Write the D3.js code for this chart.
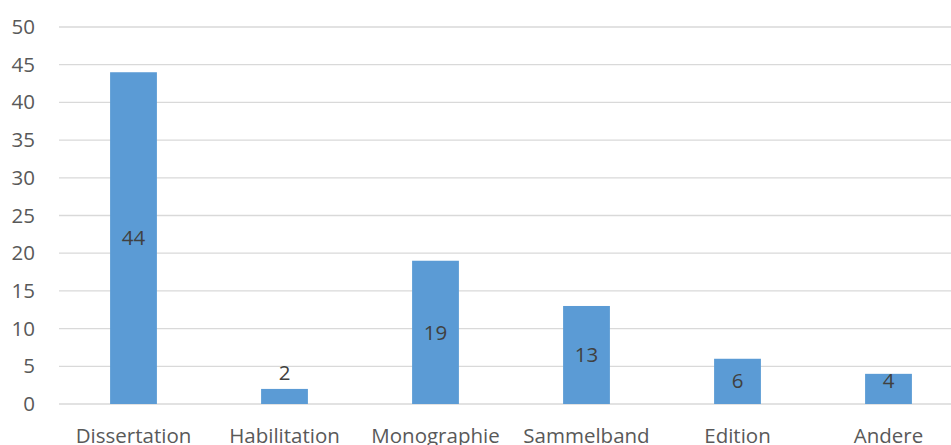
<!DOCTYPE html>
<html>
<head>
<meta charset="utf-8">
<script src="https://cdn.jsdelivr.net/npm/d3@7"></script>
<style>
  body { margin: 0; background: #fff; }
  svg { display: block; font-family: "Open Sans", sans-serif; }
</style>
</head>
<body>
<svg id="chart"></svg>
<script>
const categories = ["Dissertation", "Habilitation", "Monographie", "Sammelband", "Edition", "Andere"];
const counts = [44, 2, 19, 13, 6, 4];
const yTicks = [0, 5, 10, 15, 20, 25, 30, 35, 40, 45, 50];

const width = 951, height = 445;
const margin = { top: 27, left: 59, bottom: 41 };
const fontSize = 20.5;

const svg = d3.select("#chart")
  .attr("width", width)
  .attr("height", height);

// band scale runs past the right edge, as in the cropped original
const x = d3.scaleBand()
  .domain(categories)
  .range([margin.left - 1, margin.left - 1 + 151 * categories.length])
  .paddingInner(0.69)
  .paddingOuter(0.345);

const y = d3.scaleLinear()
  .domain([0, 50])
  .range([height - margin.bottom, margin.top]);

// gridlines
svg.append("g")
  .selectAll("line")
  .data(yTicks)
  .join("line")
  .attr("x1", margin.left)
  .attr("x2", width)
  .attr("y1", d => y(d))
  .attr("y2", d => y(d))
  .attr("stroke", "#d9d9d9")
  .attr("stroke-width", 1.3);

// y tick labels
const yAxis = svg.append("g")
  .attr("transform", `translate(${margin.left - 24},0)`)
  .call(d3.axisLeft(y).tickValues(yTicks).tickSize(0).tickPadding(0));
yAxis.select(".domain").remove();
yAxis.selectAll("text")
  .attr("font-family", "Open Sans, sans-serif")
  .attr("font-size", fontSize)
  .attr("fill", "#595959");

// bars
svg.append("g")
  .selectAll("rect")
  .data(categories)
  .join("rect")
  .attr("x", d => x(d))
  .attr("width", x.bandwidth())
  .attr("y", (d, i) => y(counts[i]))
  .attr("height", (d, i) => y(0) - y(counts[i]))
  .attr("fill", "#5b9bd5");

// value labels
svg.append("g")
  .selectAll("text")
  .data(categories)
  .join("text")
  .attr("x", d => x(d) + x.bandwidth() / 2)
  .attr("y", (d, i) => {
    const top = y(counts[i]);
    const h = y(0) - top;
    if (h < 20) return top - 16;
    return Math.min(top + h / 2, y(0) - 23);
  })
  .attr("dy", "0.35em")
  .attr("text-anchor", "middle")
  .attr("font-size", fontSize)
  .attr("fill", "#404040")
  .text((d, i) => counts[i]);

// x labels
const xAxis = svg.append("g")
  .attr("transform", `translate(0,${y(0)})`)
  .call(d3.axisBottom(x).tickSize(0).tickPadding(24));
xAxis.select(".domain").remove();
xAxis.selectAll("text")
  .attr("font-family", "Open Sans, sans-serif")
  .attr("font-size", fontSize)
  .attr("fill", "#595959");
</script>
</body>
</html>
